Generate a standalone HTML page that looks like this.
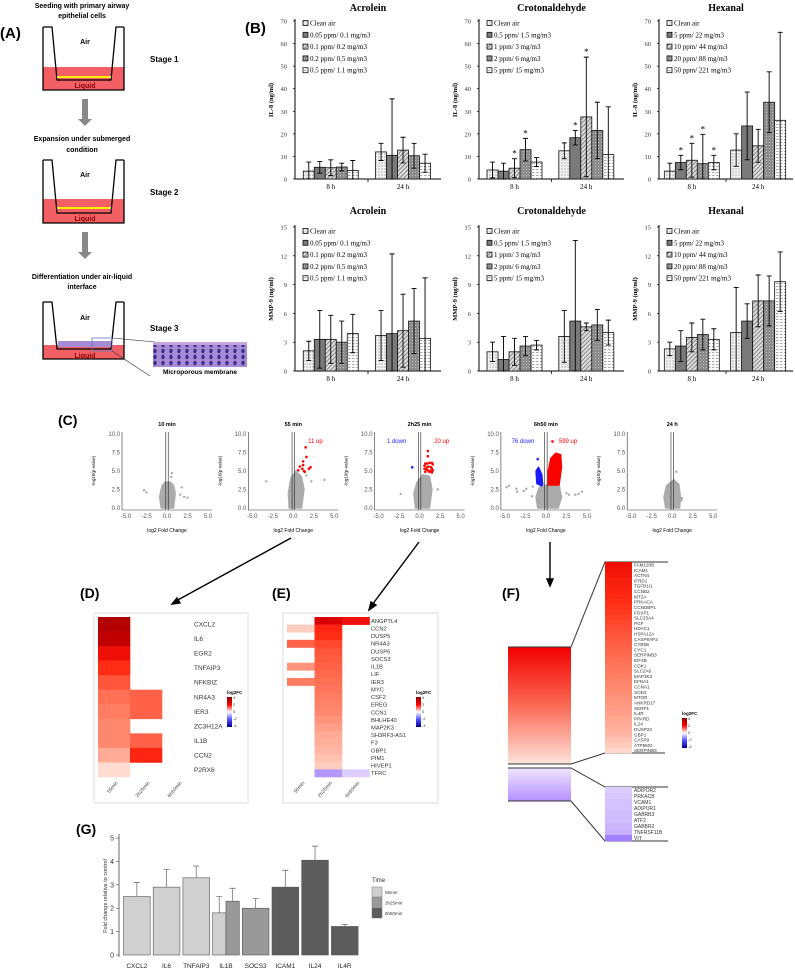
<!DOCTYPE html>
<html><head><meta charset="utf-8">
<style>
html,body{margin:0;padding:0;background:#fff;}
svg{display:block;font-family:"Liberation Sans",sans-serif;}
.serif{font-family:"Liberation Serif",serif;}
</style></head>
<body>
<svg id="fig" width="795" height="970" viewBox="0 0 795 970" xmlns="http://www.w3.org/2000/svg">
<defs>
 <pattern id="p0" width="3" height="3" patternUnits="userSpaceOnUse"><rect width="3" height="3" fill="#f2f2f2"/><circle cx="1" cy="1" r="0.6" fill="#888"/></pattern>
 <pattern id="p1" width="3" height="3" patternUnits="userSpaceOnUse"><rect width="3" height="3" fill="#7a7a7a"/></pattern>
 <pattern id="p2" width="3" height="3" patternUnits="userSpaceOnUse" patternTransform="rotate(45)"><rect width="3" height="3" fill="#dcdcdc"/><rect width="1" height="3" fill="#8a8a8a"/></pattern>
 <pattern id="p3" width="3" height="3" patternUnits="userSpaceOnUse"><rect width="3" height="3" fill="#8c8c8c"/><circle cx="1.5" cy="1.5" r="0.5" fill="#ccc"/></pattern>
 <pattern id="p4" width="4" height="3" patternUnits="userSpaceOnUse"><rect width="4" height="3" fill="#fafafa"/><rect y="1" width="2.5" height="0.8" fill="#999"/></pattern>
 <pattern id="cells" width="8" height="6" patternUnits="userSpaceOnUse"><rect width="8" height="6" fill="#a58bd6"/><ellipse cx="3" cy="3" rx="1.6" ry="2.2" fill="#3b2a8a"/></pattern>
 <linearGradient id="fRed" x1="0" y1="0" x2="0" y2="1"><stop offset="0" stop-color="#f20000"/><stop offset="0.5" stop-color="#fa6a55"/><stop offset="1" stop-color="#fde3da"/></linearGradient>
 <linearGradient id="fPur" x1="0" y1="0" x2="0" y2="1"><stop offset="0" stop-color="#efe6ff"/><stop offset="1" stop-color="#b590ff"/></linearGradient>
 <linearGradient id="leg" x1="0" y1="0" x2="0" y2="1"><stop offset="0" stop-color="#8b0000"/><stop offset="0.25" stop-color="#ff0000"/><stop offset="0.5" stop-color="#ffffff"/><stop offset="0.75" stop-color="#5050ff"/><stop offset="1" stop-color="#00008b"/></linearGradient>
</defs>

<!-- Panel A -->
<g>
 <text x="0" y="38" font-size="15" font-weight="bold">(A)</text>
 <text x="82" y="8" font-size="7" font-weight="bold" text-anchor="middle">Seeding with primary airway</text>
 <text x="82" y="18" font-size="7" font-weight="bold" text-anchor="middle">epithelial cells</text>
 <g>
  <rect x="43" y="67" width="81" height="23" fill="#f26066"/>
  <path d="M43,27 L52,27 L57,80 L111,80 L116,27 L124,27 M43,27 L43,90 L124,90 L124,27" fill="none" stroke="#000" stroke-width="1.3"/>
  <rect x="57" y="76" width="54" height="2" fill="#ffef00"/>
  <text x="85" y="44" font-size="7" font-weight="bold" text-anchor="middle">Air</text>
  <text x="85" y="88" font-size="7" font-weight="bold" fill="#8a0000" text-anchor="middle">Liquid</text>
 </g>
 <text x="150" y="62" font-size="8" font-weight="bold">Stage 1</text>
 <path d="M82,99 h6 v20 h4 l-7,7 l-7,-7 h4 z" fill="#888"/>
 <text x="82" y="141" font-size="7" font-weight="bold" text-anchor="middle">Expansion under submerged</text>
 <text x="82" y="152" font-size="7" font-weight="bold" text-anchor="middle">condition</text>
 <g>
  <rect x="43" y="199" width="81" height="24" fill="#f26066"/>
  <path d="M43,160 L52,160 L57,213 L111,213 L116,160 L124,160 M43,160 L43,223 L124,223 L124,160" fill="none" stroke="#000" stroke-width="1.3"/>
  <rect x="57" y="207" width="54" height="2" fill="#ffef00"/>
  <text x="85" y="177" font-size="7" font-weight="bold" text-anchor="middle">Air</text>
  <text x="85" y="221" font-size="7" font-weight="bold" fill="#8a0000" text-anchor="middle">Liquid</text>
 </g>
 <text x="150" y="195" font-size="8" font-weight="bold">Stage 2</text>
 <path d="M82,232 h6 v20 h4 l-7,7 l-7,-7 h4 z" fill="#888"/>
 <text x="82" y="279" font-size="7" font-weight="bold" text-anchor="middle">Differentiation under air-liquid</text>
 <text x="82" y="289" font-size="7" font-weight="bold" text-anchor="middle">interface</text>
 <g>
  <rect x="43" y="345" width="81" height="14" fill="#f26066"/>
  <path d="M43,302 L52,302 L57,349 L111,349 L116,302 L124,302 M43,302 L43,359 L124,359 L124,302" fill="none" stroke="#000" stroke-width="1.3"/>
  <rect x="58" y="341" width="53" height="6" fill="#a58bd6"/>
  <rect x="92" y="338" width="20" height="13" fill="none" stroke="#5a7fc0" stroke-width="0.8"/>
  <text x="85" y="320" font-size="7" font-weight="bold" text-anchor="middle">Air</text>
  <text x="85" y="358" font-size="7" font-weight="bold" fill="#8a0000" text-anchor="middle">Liquid</text>
  <path d="M112,338 L155,342 M112,351 L150,376" stroke="#333" stroke-width="0.6"/>
 </g>
 <text x="150" y="331" font-size="8" font-weight="bold">Stage 3</text>
 <g>
  <rect x="153" y="342" width="94" height="26" fill="url(#cells)"/>
  <rect x="153" y="342" width="94" height="3" fill="#c6a6dd"/>
  <rect x="153" y="367" width="94" height="9" fill="#fff"/>
  <text x="200" y="374" font-size="6.5" font-weight="bold" text-anchor="middle">Microporous membrane</text>
 </g>
</g>

<text x="245" y="33" font-size="15" font-weight="bold">(B)</text>
<text x="58" y="425" font-size="14" font-weight="bold">(C)</text>
<text x="80" y="598" font-size="14" font-weight="bold">(D)</text>
<text x="272" y="598" font-size="14" font-weight="bold">(E)</text>
<text x="502" y="598" font-size="14" font-weight="bold">(F)</text>
<text x="76" y="834" font-size="14" font-weight="bold">(G)</text>

<g stroke="#000" stroke-width="1.4">
 <line x1="291" y1="538" x2="176" y2="601"/><path d="M172,604 l8,-1 l-3,-5 z" fill="#000"/>
 <line x1="419" y1="542" x2="372" y2="605"/><path d="M369,610 l7,-5 l-5,-3 z" fill="#000"/>
 <line x1="550" y1="542" x2="550" y2="580"/><path d="M547,579 h6 l-3,7 z" fill="#000"/>
</g>
</svg>

<script>
const NS='http://www.w3.org/2000/svg';
const svg=document.getElementById('fig');
function el(tag,a,parent){const e=document.createElementNS(NS,tag);for(const k in a)e.setAttribute(k,a[k]);(parent||svg).appendChild(e);return e;}
function txt(s,a,parent){const e=el('text',a,parent);e.textContent=s;return e;}

/* ---------------- Panel B data ---------------- */
const bTitles=['Acrolein','Crotonaldehyde','Hexanal'];
const bGroups=['8 h','24 h'];
const legAcro=['Clean air','0.05 ppm/ 0.1 mg/m3','0.1 ppm/ 0.2 mg/m3','0.2 ppm/ 0.5 mg/m3','0.5 ppm/ 1.1 mg/m3'];
const legCroto=['Clean air','0.5 ppm/ 1.5 mg/m3','1 ppm/ 3 mg/m3','2 ppm/ 6 mg/m3','5 ppm/ 15 mg/m3'];
const legHex=['Clean air','5 ppm/ 22 mg/m3','10 ppm/ 44 mg/m3','20 ppm/ 88 mg/m3','50 ppm/ 221 mg/m3'];
const il8Ticks=[0,10,20,30,40,50,60,70];
const mmpTicks=[0,3,6,9,12,15];
const il8Acro=[[3.5,5.2,5,5.3,3.8],[12,10.5,12.8,10.3,7]];
const il8AcroErr=[[4,2.6,3.5,1.7,4.4],[3.8,25,5.7,5.5,4]];
const il8Croto=[[4,3.5,4.8,13,7.5],[12.5,18.3,27.5,21.5,10.8]];
const il8CrotoErr=[[3.5,3.5,4.2,5,2],[3.5,3.2,26.5,12.5,21.2]];
const il8Hex=[[3.5,7.3,8.3,6.8,7.3],[12.8,23.5,14.7,34,26]];
const il8HexErr=[[3.5,3.2,7.5,13,3.2],[7.2,15,7.3,13.5,39]];
const il8Stars=[[[],[]],[[2,3],[1,2]],[[1,2,3,4],[]]];
const mmpAcro=[[2.1,3.3,3.3,3,3.9],[3.7,3.9,4.2,5.2,3.4]];
const mmpAcroErr=[[1,3,2.5,2.2,2],[2.6,8.3,3.8,3.4,6.3]];
const mmpCroto=[[2,1.2,2,2.6,2.7],[3.6,5.2,4.6,4.8,4]];
const mmpCrotoErr=[[1,2.4,1.4,1,0.5],[2.7,8.4,0.4,1.6,1.3]];
const mmpHex=[[2.3,2.6,3.5,3.8,3.3],[4,5.2,7.3,7.3,9.3]];
const mmpHexErr=[[0.7,1.6,1.5,1.6,1.1],[4.7,1.8,2.7,2.6,3.1]];

const bLeft=[295,479,659], bRight=[441,624,793];
function barChart(ci,row,means,errs,ticks,legend,ytitle,stars){
  const L=bLeft[ci],R=bRight[ci],W=R-L;
  const y0=row?371:179, y1=row?227:21, tmax=ticks[ticks.length-1];
  const ys=v=>y0-(v/tmax)*(y0-y1);
  const g=el('g',{});
  
  
  const t=txt(bTitles[ci],{x:(L+R)/2,y:row?214:11,'font-size':10,'font-weight':'bold','text-anchor':'middle',class:'serif'},g);
  
  
  el('line',{x1:L,y1:y1-2,x2:L,y2:y0,stroke:'#000','stroke-width':1},g);
  el('line',{x1:L,y1:y0,x2:R,y2:y0,stroke:'#000','stroke-width':1},g);
  el('line',{x1:(L+R)/2,y1:y0,x2:(L+R)/2,y2:y0+3,stroke:'#000','stroke-width':0.8},g);
  ticks.forEach(v=>{
    el('line',{x1:L-2,y1:ys(v),x2:L,y2:ys(v),stroke:'#000','stroke-width':0.7},g);
    const tl=txt(String(v),{x:L-8,y:ys(v)+2.5,'font-size':6.5,'text-anchor':'end',class:'serif',fill:'#333'},g);
    
    
  });
  const yt=txt(ytitle,{x:0,y:0,'font-size':6.5,'font-weight':'bold','text-anchor':'middle',class:'serif',transform:`translate(${L-22},${(y0+y1)/2}) rotate(-90)`},g);
  
  
  const centers=[L+W*0.245,L+W*0.74], bw=11;
  bGroups.forEach((gn,gi)=>{
    const xl=txt(gn,{x:centers[gi],y:y0+10,'font-size':7,'text-anchor':'middle',class:'serif'},g);
    
    
    means[gi].forEach((m,bi)=>{
      const x=centers[gi]-2.5*bw+bi*bw;
      const r=el('rect',{x:x,y:ys(m),width:bw,height:y0-ys(m),fill:`url(#p${bi})`,stroke:'#111','stroke-width':0.8},g);
      
      
      const e=errs[gi][bi], cx=x+bw/2, top=ys(m+e), bot=ys(Math.max(0,m-e));
      const eb=el('path',{d:`M${cx},${top}V${bot}M${cx-2.5},${top}h5M${cx-2.5},${bot}h5`,stroke:'#000','stroke-width':0.9,fill:'none'},g);
      
      
      if(stars && stars[gi].indexOf(bi)>=0){
        const s=txt('*',{x:cx,y:top-2,'font-size':9,'text-anchor':'middle',class:'serif'},g);
        
        
      }
    });
  });
  legend.forEach((lab,i)=>{
    const ly=(row?231:23)+i*11.8;
    const sq=el('rect',{x:L+8,y:ly-2.5,width:5,height:5,fill:`url(#p${i})`,stroke:'#111','stroke-width':0.8},g);
    
    
    const lt=txt(lab,{x:L+15,y:ly+2.5,'font-size':7,class:'serif'},g);
    
    
  });
}
barChart(0,0,il8Acro,il8AcroErr,il8Ticks,legAcro,'IL-8  (ng/ml)',il8Stars[0]);
barChart(1,0,il8Croto,il8CrotoErr,il8Ticks,legCroto,'IL-8  (ng/ml)',il8Stars[1]);
barChart(2,0,il8Hex,il8HexErr,il8Ticks,legHex,'IL-8  (ng/ml)',il8Stars[2]);
barChart(0,1,mmpAcro,mmpAcroErr,mmpTicks,legAcro,'MMP-9  (ng/ml)',null);
barChart(1,1,mmpCroto,mmpCrotoErr,mmpTicks,legCroto,'MMP-9  (ng/ml)',null);
barChart(2,1,mmpHex,mmpHexErr,mmpTicks,legHex,'MMP-9  (ng/ml)',null);

/* ---------------- Panel C volcano data ---------------- */
const volTitles=['10 min','55 min','2h25 min','6h50 min','24 h'];
const volXTicks=[-5,-2.5,0,2.5,5];
const volYTicks=[0,2.5,5,7.5,10];
const volGrayBlob=[
 [[-0.7,0],[-0.9,1.5],[-0.6,3],[-0.2,3.5],[0.4,3.5],[0.8,3],[1,2],[0.8,0]],
 [[-0.5,0],[-0.6,2],[-0.3,4],[0.3,5],[1,4.2],[1.3,2.5],[1,0]],
 [[-0.5,0],[-0.7,2],[-0.3,3.5],[0.4,4.5],[1.2,4.3],[1.5,2.5],[1.2,0]],
 [[-1,0],[-1.2,1.5],[-0.8,2.8],[0.3,3.2],[1.6,3.1],[1.9,1.5],[1.5,0]],
 [[-0.8,0],[-1,1.5],[-0.7,3],[0.2,3.8],[0.8,3.2],[1,1.5],[0.9,0]]
];
const volGrayPts=[
 [[-2.8,2.4],[-2.5,2.1],[0.6,4.7],[0.5,4.2],[1.8,2.8],[2.1,1.5],[2.5,1.4],[1.6,1.8]],
 [[-3.3,3.6],[2.2,3.6],[3.8,3.8],[1.6,4.4]],
 [[-2.3,1.9],[2.2,2.5]],
 [[-4.5,3],[-4.8,2.8],[-3.6,2.6],[-3.5,2.2],[-2.7,2.3],[-2.4,2.6],[-1.7,1.6],[-1.6,2.9],[2.8,1.8],[3.6,1.8],[4.0,1.9],[4.4,2.2],[2.5,2.0]],
 [[0.5,4.9],[1.2,1.3],[1.1,1.0]]
];
const volRedPts=[
 [],
 [[1.5,8.2],[1.6,6.9],[1.2,6.3],[0.8,5.6],[1.1,5.3],[0.6,5.1],[1.3,5.0],[1.9,5.3],[2.1,5.5],[1.2,5.8],[1.4,4.9]],
 [[1,7.7],[1,7],[1.2,6.1],[0.7,6],[0.9,6],[1.5,6.1],[1.6,5.9],[0.6,5.3],[0.8,5.2],[1,5.1],[1.3,5.0],[1.5,5.3],[0.7,4.9],[0.9,5.5],[1.1,5.6],[1.4,5.5],[1.6,5.1],[0.6,5.7],[1.2,4.9],[1.5,4.8]],
 [[0.8,9]],
 []
];
const volBluePts=[[],[],[[-0.9,5.5]],[[-1,6.6]],[]];
const volRedMass=[null,null,null,[[0.3,3.1],[0.3,5],[0.6,6.7],[1.2,7.4],[1.8,7.2],[1.9,5.5],[1.6,3.1]],null];
const volBlueMass=[null,null,null,[[-0.5,3],[-1.1,3.3],[-1.2,5],[-0.9,5.5],[-0.5,4.5],[-0.4,3.2]],null];
const volDown=[null,null,'1 down','76 down',null];
const volUp=[null,'11 up','20 up','599 up',null];

volTitles.forEach((title,i)=>{
  const xm5=126+i*126.3, xp5=xm5+82;
  const xs=v=>xm5+(v+5)/10*(xp5-xm5);
  const y0=508,y10=434;
  const ys=v=>y0-v/10*(y0-y10);
  const g=el('g',{});
  
  
  const tt=txt(title,{x:xs(0),y:426,'font-size':5.5,'font-weight':'bold','text-anchor':'middle'},g);
  
  
  el('line',{x1:xm5-4,y1:y10-2,x2:xm5-4,y2:y0+2,stroke:'#333','stroke-width':0.6},g);
  el('line',{x1:xm5-4,y1:y0+2,x2:xp5+4,y2:y0+2,stroke:'#333','stroke-width':0.6},g);
  volYTicks.forEach(v=>{
    const l=txt(v.toFixed(1),{x:xm5-6,y:ys(v)+2,'font-size':6,'text-anchor':'end',fill:'#555'},g);
    
    
  });
  volXTicks.forEach(v=>{
    const l=txt(v.toFixed(1),{x:xs(v),y:518,'font-size':6,'text-anchor':'middle',fill:'#555'},g);
    
    
  });
  const xt=txt('log2 Fold Change',{x:xs(0),y:532,'font-size':5,'text-anchor':'middle'},g);
  
  
  const yt=txt('-log10(p-value)',{x:0,y:0,'font-size':4.5,'text-anchor':'middle',transform:`translate(${xm5-31},${(y0+y10)/2}) rotate(-90)`},g);
  
  
  const poly=(pts,fill)=>el('polygon',{points:pts.map(q=>xs(q[0])+','+ys(q[1])).join(' '),fill:fill,stroke:fill,'stroke-width':1.5,'stroke-linejoin':'round'},g);
  const gb=poly(volGrayBlob[i],'#ababab');
  
  
  if(volRedMass[i]){const rm=poly(volRedMass[i],'#ff0000');}
  if(volBlueMass[i]){const bm=poly(volBlueMass[i],'#1a1aff');}
  volGrayPts[i].forEach(p=>{const c=el('circle',{cx:xs(p[0]),cy:ys(p[1]),r:1.2,fill:'#ababab'},g);});
  volRedPts[i].forEach(p=>{const c=el('circle',{cx:xs(p[0]),cy:ys(p[1]),r:1.3,fill:'#ff0000'},g);});
  volBluePts[i].forEach(p=>{const c=el('circle',{cx:xs(p[0]),cy:ys(p[1]),r:1.3,fill:'#1a1aff'},g);});
  el('line',{x1:xs(-0.15),y1:y10-2,x2:xs(-0.15),y2:y0+2,stroke:'#222','stroke-width':0.6},g);
  el('line',{x1:xs(0.15),y1:y10-2,x2:xs(0.15),y2:y0+2,stroke:'#222','stroke-width':0.6},g);
  if(volDown[i]){const d=txt(volDown[i],{x:xs(-2.8),y:443,'font-size':6,fill:'#2222ff','text-anchor':'middle'},g);}
  if(volUp[i]){const u=txt(volUp[i],{x:xs(2.7),y:443,'font-size':6,fill:'#ff0000','text-anchor':'middle'},g);}
});

/* ---------------- heatmaps ---------------- */
const posStops=[[0,[255,255,255]],[0.7,[255,205,190]],[1.4,[255,125,98]],[2,[255,45,20]],[2.6,[232,0,0]],[4,[139,0,0]]];
const negStops=[[0,[255,255,255]],[1,[220,205,255]],[2,[140,95,255]],[4,[0,0,139]]];
function heatColor(v){
  const stops=v>=0?posStops:negStops, a=Math.min(Math.abs(v),4);
  let c=stops[stops.length-1][1];
  for(let k=1;k<stops.length;k++){
    if(a<=stops[k][0]){const t=(a-stops[k-1][0])/(stops[k][0]-stops[k-1][0]);c=stops[k-1][1].map((x,j)=>Math.round(x+(stops[k][1][j]-x)*t));break;}
  }
  return `rgb(${c[0]},${c[1]},${c[2]})`;
}
const timeLabels=['55min','2h25min','6h50min'];
const dGenes=['CXCL2','IL6','EGR2','TNFAIP3','NFKBIZ','NR4A3','IER3','ZC3H12A','IL1B','CCN2','P2RX6'];
const d55=[3.4,3.2,2.4,2.0,1.7,1.5,1.4,1.3,1.3,1.0,0.5];
const d2h25=[null,null,null,null,null,1.6,1.6,null,1.6,2.1,null];
const d6h50=[null,null,null,null,null,null,null,null,null,null,null];
const eGenes=['ANGPTL4','CCN2','DUSP5','NR4A3','DUSP6','SOCS3','IL1B','LIF','IER3','MYC','CSF2','EREG','CCN1','BHLHE40','MAP2K3','SH3RF3-AS1','F3','GBP1','PIM1','HIVEP1','TFRC'];
const e55=[null,0.7,null,1.6,null,null,1.2,null,1.4,null,null,null,null,null,null,null,null,null,null,null,null];
const e2h25=[2.8,2.1,2.0,1.8,1.7,1.65,1.6,1.55,1.5,1.45,1.4,1.35,1.3,1.2,1.1,1.0,0.95,0.9,0.8,0.7,-1.5];
const e6h50=[2.4,null,null,null,null,null,null,null,null,null,null,null,null,null,null,null,null,null,null,null,-1.0];

function heatmap(name,box,genes,cols,cellX,cellW,top,bottom,labelX,fs,legX){
  const g=el('g',{});
  
  
  const bx=el('rect',{x:box[0],y:box[1],width:box[2],height:box[3],fill:'#fff',stroke:'#ddd','stroke-width':1},g);
  
  
  const rh=(bottom-top)/genes.length;
  genes.forEach((gn,ri)=>{
    cols.forEach((col,ci)=>{
      const v=col[ri]; if(v===null) return;
      const c=el('rect',{x:cellX+ci*cellW,y:top+ri*rh,width:cellW+0.3,height:rh+0.3,fill:heatColor(v)},g);
      
      
    });
    const t=txt(gn,{x:labelX,y:top+ri*rh+rh/2+fs*0.35,'font-size':fs,fill:'#333'},g);
    
    
  });
  timeLabels.forEach((tl,ci)=>{
    const t=txt(tl,{x:0,y:0,'font-size':5,fill:'#444','text-anchor':'end',transform:`translate(${cellX+ci*cellW+cellW/2+4},${bottom+6}) rotate(-50)`},g);
    
    
  });
  colorLegend(g,legX,697);
}
function colorLegend(g,x,y){
  const t=txt('log2FC',{x:x,y:y-3,'font-size':4.5,'font-weight':'bold'},g);
  
  
  const r=el('rect',{x:x,y:y,width:5,height:30,fill:'url(#leg)'},g);
  
  
  ['4','2','0','-2','-4'].forEach((s,i)=>{txt(s,{x:x+6,y:y+2+i*7,'font-size':4,fill:'#333'},g);});
}
heatmap('heatmap-d',[94,613,154,190],dGenes,[d55,d2h25,d6h50],98,32,617,777,194,6.5,227);
heatmap('heatmap-e',[283,613,155,190],eGenes,[e55,e2h25,e6h50],287,27.5,617,777,371,5.8,416);

/* ---------------- Panel F ---------------- */
const fUpGenes=['FAM120B','ICAM1','ACTN4','IFRD1','TGFB1I1','CCNB2','MT2A','PRKACA','CCNDBP1','FOXP1','SLC25A4','PGF','HDAC1','HSPA12A','CASP8AP2','CYB5B','CYC1','SERPINB3','EIF4B','CDK1','SLC2A6','MAP3K3','EFNA1','CCNA1','SOD2','MTOR','ANKRD17','SERP1','IL4R','PPARD','IL24','DUSP23','GBP1','CASP9','ATP5MG','SERPINB9'];
const fUpVals=[2.4,2.35,2.3,2.2,2.15,2.1,2.05,2.0,1.95,1.9,1.85,1.8,1.75,1.7,1.66,1.62,1.58,1.54,1.5,1.46,1.42,1.38,1.34,1.3,1.26,1.22,1.18,1.14,1.1,1.05,1.0,0.95,0.9,0.8,0.7,0.55];
const fDownGenes=['ADIPOR2','PRKACB','VCAM1','ADIPOR1','GABRB3','ATF2','GABBR2','TNFRSF11B','VIT'];
const fDownVals=[-1.0,-1.05,-1.1,-1.1,-1.15,-1.15,-1.2,-1.25,-1.7];
(function(){
  const g=el('g',{});
  
  
  const a=el('rect',{x:508,y:647,width:63,height:117,fill:'url(#fRed)'},g);
  
  
  const b=el('rect',{x:508,y:768,width:63,height:33,fill:'url(#fPur)'},g);
  
  
  el('path',{d:'M508,647H571L605,562H668M508,764H571L605,753H665M508,768H571L605,787H668M508,801H571L605,841H668',fill:'none',stroke:'#333','stroke-width':1},g);
  const top=562,bot=753,rh=(bot-top)/fUpGenes.length;
  fUpGenes.forEach((gn,i)=>{
    const c=el('rect',{x:605,y:top+i*rh,width:27,height:rh+0.3,fill:heatColor(fUpVals[i])},g);
    
    
    const t=txt(gn,{x:634,y:top+i*rh+rh-0.8,'font-size':4.6,fill:'#333'},g);
    
    
  });
  const t2=787,b2=841,rh2=(b2-t2)/fDownGenes.length;
  fDownGenes.forEach((gn,i)=>{
    const c=el('rect',{x:605,y:t2+i*rh2,width:27,height:rh2+0.3,fill:heatColor(fDownVals[i])},g);
    
    
    const t=txt(gn,{x:634,y:t2+i*rh2+rh2-1,'font-size':5,fill:'#333'},g);
    
    
  });
  colorLegend(g,682,718);
})();

/* ---------------- Panel G ---------------- */
const gGenes=['CXCL2','IL6','TNFAIP3','IL1B','SOCS3','ICAM1','IL24','IL4R'];
const gTimes=['55min','2h25min','6h50min'];
const gBars=[[0,0,2.5,3.1],[1,0,2.9,3.65],[2,0,3.3,3.8],[3,0,1.8,2.5],[3,1,2.3,2.85],[4,1,2.0,2.42],[5,2,2.9,3.62],[6,2,4.05,4.65],[7,2,1.22,1.3]];
const gTicks=[0,1,2,3,4,5];
const gColors=['#d0d0d0','#999999','#5c5c5c'];
(function(){
  const g=el('g',{});
  
  
  const y0=955,y5=838,ys=v=>y0-v/5*(y0-y5);
  const slot=29.7,x0=122;
  el('line',{x1:119,y1:834,x2:119,y2:957,stroke:'#444','stroke-width':0.8},g);
  gTicks.forEach(v=>{
    el('line',{x1:116,y1:ys(v),x2:119,y2:ys(v),stroke:'#444','stroke-width':0.6},g);
    const t=txt(String(v),{x:114,y:ys(v)+2.5,'font-size':7,'text-anchor':'end',fill:'#333'},g);
    
    
  });
  const yt=txt('Fold change relative to control',{x:0,y:0,'font-size':5.5,'text-anchor':'middle',fill:'#333',transform:'translate(107,896) rotate(-90)'},g);
  
  
  gGenes.forEach((gn,i)=>{
    const t=txt(gn,{x:x0+slot*i+slot/2,y:968,'font-size':6.5,'text-anchor':'middle',fill:'#222'},g);
    
    
  });
  gBars.forEach(b=>{
    const gi=b[0],ti=b[1],v=b[2],hi=b[3];
    const same=gBars.filter(q=>q[0]===gi);
    const split=same.length, idx=same.indexOf(b);
    const w=(slot-3)/split, x=x0+slot*gi+1.5+idx*w;
    const r=el('rect',{x:x,y:ys(v),width:w,height:y0-ys(v),fill:gColors[ti],stroke:'#555','stroke-width':0.6},g);
    
    
    const cx=x+w/2;
    const e=el('path',{d:`M${cx},${ys(v)}V${ys(hi)}M${cx-3},${ys(hi)}h6`,stroke:'#777','stroke-width':0.8,fill:'none'},g);
    
    
  });
  const lt=txt('Time',{x:372,y:882,'font-size':6,fill:'#333'},g);
  
  
  gTimes.forEach((tn,i)=>{
    const r=el('rect',{x:372,y:887+i*10.5,width:10,height:10,fill:gColors[i],stroke:'#777','stroke-width':0.5},g);
    
    
    const t=txt(tn,{x:385,y:894+i*10.5,'font-size':4.5,fill:'#333'},g);
    
    
  });
})();
</script>
</body></html>
